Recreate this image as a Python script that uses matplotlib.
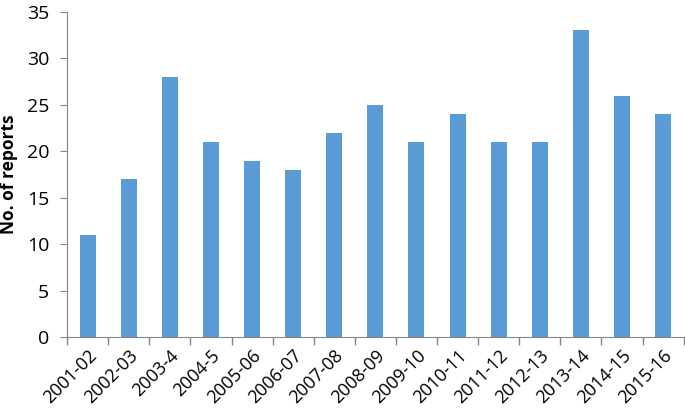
import matplotlib
matplotlib.use("Agg")
import matplotlib.pyplot as plt
import matplotlib.transforms as mtransforms
import numpy as np

years = ["2001-02", "2002-03", "2003-4", "2004-5", "2005-06", "2006-07", "2007-08",
         "2008-09", "2009-10", "2010-11", "2011-12", "2012-13", "2013-14", "2014-15", "2015-16"]
reports = [11, 17, 28, 21, 19, 18, 22, 25, 21, 24, 21, 21, 33, 26, 24]

plt.rcParams['font.family'] = ['Open Sans', 'DejaVu Sans']

fig = plt.figure(figsize=(6.85, 4.11), dpi=100)
ax = fig.add_axes([0.098, 0.180, 0.900, 0.791])

x = np.arange(len(years))
ax.bar(x, reports, width=0.39, color="#5B9BD5", zorder=2)

ax.set_xlim(-0.5, len(years) - 0.5)
ax.set_ylim(0, 35)
ax.set_yticks(range(0, 36, 5))

# boundaries get the tick marks, centres get the labels
ax.set_xticks(np.arange(-0.5, len(years)), minor=False)
ax.set_xticklabels([])
ax.set_xticks(x, minor=True)
ax.set_xticklabels(years, minor=True, rotation=45, ha="right", va="top",
                   rotation_mode="anchor", fontsize=13)
shift = mtransforms.ScaledTranslation(6 / 100, 0, fig.dpi_scale_trans)
for lab in ax.get_xticklabels(minor=True):
    lab.set_transform(lab.get_transform() + shift)
ax.tick_params(axis="x", which="major", length=6, color="#868686", width=1)
ax.tick_params(axis="x", which="minor", length=0, pad=7)
ax.tick_params(axis="y", length=5, color="#868686", labelsize=14, pad=8)

for s in ["top", "right"]:
    ax.spines[s].set_visible(False)
for s in ["left", "bottom"]:
    ax.spines[s].set_color("#868686")

ax.set_ylabel("No. of reports", fontsize=12.5, fontweight="bold", labelpad=6)

fig.savefig("out.png", dpi=100)
